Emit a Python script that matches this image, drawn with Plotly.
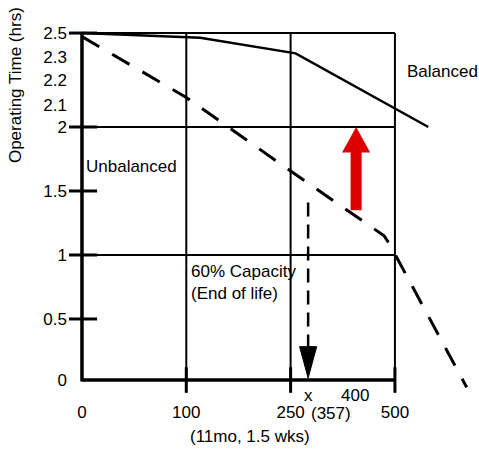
import numpy as np
import plotly.graph_objects as go

# ---------------- data ----------------
x_tick_cycles = [0, 100, 250, 500]
x_tick_labels = ["0", "100", "250", "500"]

y_tick_hours = [0, 0.5, 1, 1.5, 2, 2.1, 2.2, 2.3, 2.5]
y_tick_labels = ["0", "0.5", "1", "1.5", "2", "2.1", "2.2", "2.3", "2.5"]
y_tickmark_hours = [0.5, 1, 1.5, 2, 2.5]

balanced_cycles = [0, 120, 262, 580]
balanced_hours = [2.5, 2.46, 2.33, 2.0]

unbalanced_cycles = [0, 100, 249, 474, 488, 672]
unbalanced_hours = [2.47, 2.13, 1.66, 1.15, 1.08, -0.06]

end_of_life_cycles = 292       # "x" marker (357)
end_of_life_top_hours = 1.41
red_arrow_cycles = 407
red_arrow_from_hours = 1.35
red_arrow_to_hours = 2.0

# ---------------- schematic (non-linear) scales ----------------
X_KNOTS_IN = [0, 100, 250, 500]
X_KNOTS_OUT = [0, 1, 2, 3]
Y_KNOTS_IN = [0, 0.5, 1, 1.5, 2, 2.1, 2.2, 2.3, 2.5]
Y_KNOTS_OUT = [0.023, 0.5, 1.0, 1.5, 2.0, 2.172, 2.367, 2.547, 2.734]


def piecewise(v, xin, xout):
    v = np.asarray(v, dtype=float)
    out = np.interp(v, xin, xout)
    lo_s = (xout[1] - xout[0]) / (xin[1] - xin[0])
    hi_s = (xout[-1] - xout[-2]) / (xin[-1] - xin[-2])
    out = np.where(v < xin[0], xout[0] + (v - xin[0]) * lo_s, out)
    out = np.where(v > xin[-1], xout[-1] + (v - xin[-1]) * hi_s, out)
    return out


def X(v):
    return piecewise(v, X_KNOTS_IN, X_KNOTS_OUT)


def Y(v):
    return piecewise(v, Y_KNOTS_IN, Y_KNOTS_OUT)


FONT = "Liberation Sans, Arial, Helvetica, sans-serif"
FS = 17
BLACK = "#000000"

fig = go.Figure()

fig.add_trace(go.Scatter(
    x=X(balanced_cycles), y=Y(balanced_hours), mode="lines",
    line=dict(color=BLACK, width=2.5), name="Balanced", showlegend=False,
    hoverinfo="skip"))
fig.add_trace(go.Scatter(
    x=X(unbalanced_cycles), y=Y(unbalanced_hours), mode="lines",
    line=dict(color=BLACK, width=3, dash="20px,15px"), name="Unbalanced",
    showlegend=False, hoverinfo="skip"))

shapes = []
x0, x500 = float(X(0)), float(X(500))
y0, ytop = float(Y(0)), float(Y(2.5))
# grid
for c in [100, 250, 500]:
    xv = float(X(c))
    shapes.append(dict(type="line", x0=xv, x1=xv, y0=y0, y1=ytop,
                       line=dict(color=BLACK, width=2)))
for h in [1, 2, 2.5]:
    yv = float(Y(h))
    shapes.append(dict(type="line", x0=x0, x1=x500, y0=yv, y1=yv,
                       line=dict(color=BLACK, width=2)))
# axes
shapes.append(dict(type="line", x0=x0, x1=x0, y0=y0 - 0.012, y1=ytop,
                   line=dict(color=BLACK, width=3.5)))
shapes.append(dict(type="line", x0=x0, x1=x500, y0=y0, y1=y0,
                   line=dict(color=BLACK, width=3.5)))
# tick marks
for h in y_tickmark_hours:
    yv = float(Y(h))
    shapes.append(dict(type="line", x0=x0 - 0.125, x1=x0 + 0.145, y0=yv, y1=yv,
                       line=dict(color=BLACK, width=3)))
for c in [100, 250, 500]:
    xv = float(X(c))
    shapes.append(dict(type="line", x0=xv, x1=xv, y0=y0 + 0.1, y1=y0 - 0.1,
                       line=dict(color=BLACK, width=3)))

# end-of-life dashed arrow
ex = float(X(end_of_life_cycles))
e_top = float(Y(end_of_life_top_hours))
e_tip = y0 + 0.016
e_base = e_tip + 0.245
shapes.append(dict(type="line", x0=ex, x1=ex, y0=e_top, y1=e_base,
                   line=dict(color=BLACK, width=2.5, dash="14px,8px")))
hw = 0.082
shapes.append(dict(type="path",
                   path=f"M {ex-hw} {e_base} L {ex+hw} {e_base} L {ex} {e_tip} Z",
                   fillcolor=BLACK, line=dict(color=BLACK, width=1)))

# red arrow
rx = float(X(red_arrow_cycles))
r_bot = float(Y(red_arrow_from_hours))
r_tip = float(Y(red_arrow_to_hours))
r_base = r_tip - 0.20
sw, hw2 = 0.053, 0.135
shapes.append(dict(type="path",
                   path=(f"M {rx-sw} {r_bot} L {rx-sw} {r_base} L {rx-hw2} {r_base} "
                         f"L {rx} {r_tip} L {rx+hw2} {r_base} L {rx+sw} {r_base} "
                         f"L {rx+sw} {r_bot} Z"),
                   fillcolor="#dd0000", line=dict(color="#dd0000", width=0)))

fig.update_layout(shapes=shapes)

ann_font = dict(family=FONT, size=FS, color=BLACK)


def note(text, xv, yv, xanchor="left", yanchor="middle", angle=0, ref="data"):
    xr, yr = ("x", "y") if ref == "data" else ("paper", "paper")
    fig.add_annotation(text=text, x=xv, y=yv, xref=xr, yref=yr,
                       showarrow=False, xanchor=xanchor, yanchor=yanchor,
                       textangle=angle, font=ann_font)


note("Balanced", 3.10, 2.43)
note("Unbalanced", 0.02, 1.69)
note("60% Capacity", 1.03, 0.87)
note("(End of life)", 1.03, 0.70)
note("x", 2.167, -0.094, xanchor="center")
note("400", 2.617, -0.094, xanchor="center")
note("(357)", 0.648, -0.034, xanchor="center", ref="paper")
note("(11mo, 1.5 wks)", 0.448, -0.096, xanchor="center", ref="paper")
note("Operating Time (hrs)", -0.1305, 0.818, xanchor="center", angle=-90,
     ref="paper")

fig.update_xaxes(range=[-0.134, 3.758], tickvals=X(x_tick_cycles).tolist(),
                 ticktext=x_tick_labels, ticks="", showgrid=False,
                 zeroline=False, showline=False, automargin=False,
                 tickfont=dict(family=FONT, size=FS, color=BLACK))
fig.update_yaxes(range=[-0.133, 2.875], tickvals=Y(y_tick_hours).tolist(),
                 ticktext=y_tick_labels, ticks="", showgrid=False,
                 zeroline=False, showline=False, automargin=False,
                 tickfont=dict(family=FONT, size=FS, color=BLACK))

fig.update_layout(width=479, height=456, autosize=False,
                  margin=dict(l=68, r=5, t=15, b=56),
                  paper_bgcolor="white", plot_bgcolor="white",
                  showlegend=False)

# remove the default page margin so the 479x456 figure fills the window
fig.write_html(
    "out.html",
    config={"displayModeBar": False},
    post_script="document.body.style.margin='0px';"
                "document.body.style.overflow='hidden';")
